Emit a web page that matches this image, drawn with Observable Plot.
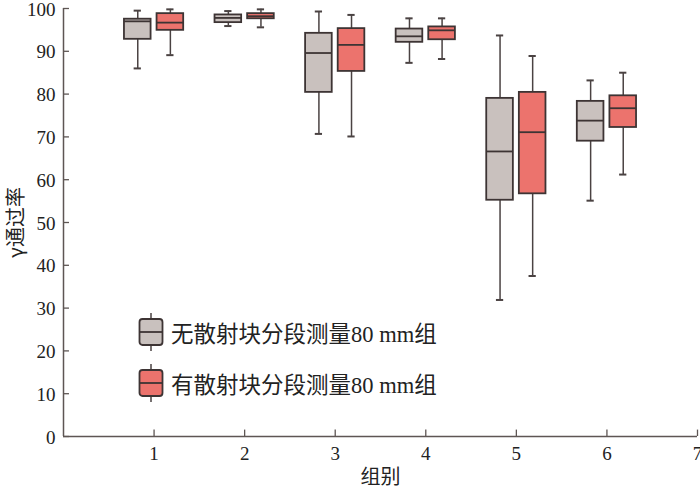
<!DOCTYPE html>
<html><head><meta charset="utf-8">
<script src="https://cdn.jsdelivr.net/npm/d3@7"></script>
<script src="https://cdn.jsdelivr.net/npm/@observablehq/plot@0.6"></script>
<style>
body{margin:0;background:#fff;}
#wrap{position:relative;width:700px;height:489px;}
#legend{position:absolute;left:138px;top:312px;font-family:"Liberation Serif","Noto Sans CJK SC",serif;font-size:22.5px;color:#222;}
.item{display:flex;align-items:center;height:40px;margin-bottom:11px;}
.item svg{margin-right:7px;}
</style>
</head><body>
<div id="wrap"><div id="chart"></div><div id="legend"></div></div>
<script>
const groups = [1, 2, 3, 4, 5, 6];
const seriesNames = ["无散射块分段测量80 mm组", "有散射块分段测量80 mm组"];
const grayMin = [86.0, 95.9, 70.7, 87.3, 31.9, 55.1];
const grayQ1  = [92.8, 96.7, 80.4, 92.1, 55.2, 69.0];
const grayMed = [97.0, 97.8, 89.6, 93.5, 66.6, 73.8];
const grayQ3  = [97.5, 98.5, 94.2, 95.2, 79.0, 78.3];
const grayMax = [99.5, 99.4, 99.3, 97.7, 93.7, 83.2];
const redMin = [89.1, 95.6, 70.1, 88.2, 37.5, 61.2];
const redQ1  = [94.9, 97.6, 85.3, 92.7, 56.7, 72.2];
const redMed = [96.7, 98.2, 91.5, 94.9, 71.1, 76.7];
const redQ3  = [98.8, 98.8, 95.3, 95.7, 80.4, 79.6];
const redMax = [99.8, 99.8, 98.5, 97.7, 88.9, 85.0];
const xTicks = [1, 2, 3, 4, 5, 6, 7];
const yTicks = [0, 10, 20, 30, 40, 50, 60, 70, 80, 90, 100];

const colors = ["#c9c1be", "#ec736d"];
const strokeC = "#3d3434";
const axisC = "#5e5654";
const offsets = [-0.18, 0.18];
const halfW = 0.147, capW = 0.04;

const rows = [];
const sets = [[grayMin, grayQ1, grayMed, grayQ3, grayMax], [redMin, redQ1, redMed, redQ3, redMax]];
sets.forEach((s, si) => groups.forEach((g, i) => rows.push({
  s: si, x: g + offsets[si], min: s[0][i], q1: s[1][i], med: s[2][i], q3: s[3][i], max: s[4][i]
})));

const font = '"Liberation Serif","Noto Sans CJK SC",serif';
const chart = Plot.plot({
  width: 700, height: 489,
  marginLeft: 63, marginRight: 3, marginTop: 8, marginBottom: 53,
  style: {fontFamily: font, fontSize: "19px", color: "#222", background: "#fff"},
  x: {domain: [0, 7]},
  y: {domain: [0, 100]},
  marks: [
    Plot.ruleX(rows, {x: "x", y1: "min", y2: "max", stroke: "#4a4242", strokeWidth: 1.5}),
    Plot.ruleY(rows, {y: "min", x1: d => d.x - capW, x2: d => d.x + capW, stroke: "#4a4242", strokeWidth: 2}),
    Plot.ruleY(rows, {y: "max", x1: d => d.x - capW, x2: d => d.x + capW, stroke: "#4a4242", strokeWidth: 2}),
    Plot.rect(rows, {x1: d => d.x - halfW, x2: d => d.x + halfW, y1: "q1", y2: "q3",
      fill: d => colors[d.s], stroke: strokeC, strokeWidth: 1.8}),
    Plot.ruleY(rows, {y: "med", x1: d => d.x - halfW, x2: d => d.x + halfW, stroke: strokeC, strokeWidth: 1.8}),
    Plot.ruleX([0], {y1: 0, y2: 100, stroke: axisC, strokeWidth: 1.5}),
    Plot.ruleY([0], {x1: 0, x2: 7, stroke: axisC, strokeWidth: 1.5}),
    Plot.ruleY(yTicks, {y: d => d, x1: 0, x2: 0.066, stroke: axisC, strokeWidth: 1.3}),
    Plot.ruleX(xTicks, {x: d => d, y1: 0, y2: 1.5, stroke: axisC, strokeWidth: 1.3}),
    Plot.axisY({ticks: yTicks, tickSize: 0, tickPadding: 8, fontSize: 19, tickFormat: d => String(d), dy: 1,
      label: "γ通过率", labelAnchor: "center", labelArrow: "none", labelOffset: 55}),
    Plot.axisX({ticks: xTicks, tickSize: 0, tickPadding: 10, fontSize: 19, tickFormat: d => String(d),
      label: "组别", labelAnchor: "center", labelArrow: "none", labelOffset: 47})
  ]
});
chart.querySelectorAll("g[aria-label$='axis label']").forEach(e => {
  e.setAttribute("font-family", '"Noto Sans CJK SC",sans-serif');
  e.setAttribute("font-size", "20");
  e.querySelectorAll("text").forEach(t => { t.setAttribute("font-size", "20"); t.style.fontSize = "20px"; });
});
document.getElementById("chart").append(chart);

const legend = document.getElementById("legend");
seriesNames.forEach((name, i) => {
  const div = document.createElement("div");
  div.className = "item";
  div.innerHTML = `<svg width="26" height="40" viewBox="0 0 26 40">
    <line x1="13" y1="1" x2="13" y2="39" stroke="#4a4242" stroke-width="1.5"/>
    <rect x="1.5" y="7" width="23" height="26" rx="3" fill="${colors[i]}" stroke="${strokeC}" stroke-width="1.8"/>
    <line x1="1.5" y1="20" x2="24.5" y2="20" stroke="${strokeC}" stroke-width="1.8"/>
  </svg><span>${name}</span>`;
  legend.append(div);
});
</script>
</body></html>
